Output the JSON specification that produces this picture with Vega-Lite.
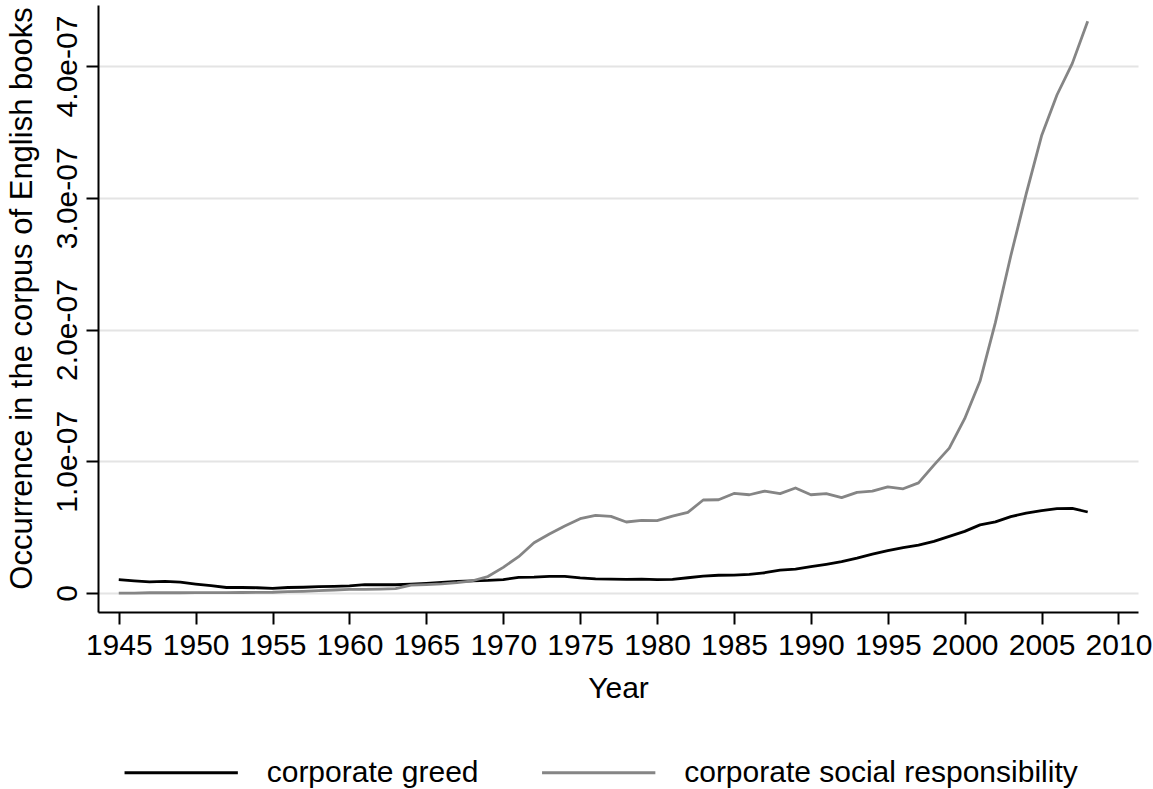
{
  "$schema": "https://vega.github.io/schema/vega-lite/v6.json",
  "width": 1040,
  "height": 607,
  "autosize": {"type": "none"},
  "padding": {"left": 98, "top": 5, "right": 15, "bottom": 177},
  "background": "white",
  "config": {"view": {"stroke": null}, "font": "Liberation Sans"},
  "data": {
    "values": [
      {"year": 1945, "series": "corporate greed", "value": 1.01e-8},
      {"year": 1946, "series": "corporate greed", "value": 0.92e-8},
      {"year": 1947, "series": "corporate greed", "value": 0.85e-8},
      {"year": 1948, "series": "corporate greed", "value": 0.88e-8},
      {"year": 1949, "series": "corporate greed", "value": 0.82e-8},
      {"year": 1950, "series": "corporate greed", "value": 0.68e-8},
      {"year": 1951, "series": "corporate greed", "value": 0.56e-8},
      {"year": 1952, "series": "corporate greed", "value": 0.42e-8},
      {"year": 1953, "series": "corporate greed", "value": 0.42e-8},
      {"year": 1954, "series": "corporate greed", "value": 0.40e-8},
      {"year": 1955, "series": "corporate greed", "value": 0.35e-8},
      {"year": 1956, "series": "corporate greed", "value": 0.42e-8},
      {"year": 1957, "series": "corporate greed", "value": 0.44e-8},
      {"year": 1958, "series": "corporate greed", "value": 0.48e-8},
      {"year": 1959, "series": "corporate greed", "value": 0.51e-8},
      {"year": 1960, "series": "corporate greed", "value": 0.55e-8},
      {"year": 1961, "series": "corporate greed", "value": 0.64e-8},
      {"year": 1962, "series": "corporate greed", "value": 0.63e-8},
      {"year": 1963, "series": "corporate greed", "value": 0.63e-8},
      {"year": 1964, "series": "corporate greed", "value": 0.68e-8},
      {"year": 1965, "series": "corporate greed", "value": 0.74e-8},
      {"year": 1966, "series": "corporate greed", "value": 0.81e-8},
      {"year": 1967, "series": "corporate greed", "value": 0.88e-8},
      {"year": 1968, "series": "corporate greed", "value": 0.93e-8},
      {"year": 1969, "series": "corporate greed", "value": 0.96e-8},
      {"year": 1970, "series": "corporate greed", "value": 1.02e-8},
      {"year": 1971, "series": "corporate greed", "value": 1.19e-8},
      {"year": 1972, "series": "corporate greed", "value": 1.21e-8},
      {"year": 1973, "series": "corporate greed", "value": 1.26e-8},
      {"year": 1974, "series": "corporate greed", "value": 1.27e-8},
      {"year": 1975, "series": "corporate greed", "value": 1.15e-8},
      {"year": 1976, "series": "corporate greed", "value": 1.07e-8},
      {"year": 1977, "series": "corporate greed", "value": 1.06e-8},
      {"year": 1978, "series": "corporate greed", "value": 1.04e-8},
      {"year": 1979, "series": "corporate greed", "value": 1.05e-8},
      {"year": 1980, "series": "corporate greed", "value": 1.01e-8},
      {"year": 1981, "series": "corporate greed", "value": 1.04e-8},
      {"year": 1982, "series": "corporate greed", "value": 1.16e-8},
      {"year": 1983, "series": "corporate greed", "value": 1.29e-8},
      {"year": 1984, "series": "corporate greed", "value": 1.35e-8},
      {"year": 1985, "series": "corporate greed", "value": 1.36e-8},
      {"year": 1986, "series": "corporate greed", "value": 1.42e-8},
      {"year": 1987, "series": "corporate greed", "value": 1.54e-8},
      {"year": 1988, "series": "corporate greed", "value": 1.74e-8},
      {"year": 1989, "series": "corporate greed", "value": 1.82e-8},
      {"year": 1990, "series": "corporate greed", "value": 2.00e-8},
      {"year": 1991, "series": "corporate greed", "value": 2.18e-8},
      {"year": 1992, "series": "corporate greed", "value": 2.38e-8},
      {"year": 1993, "series": "corporate greed", "value": 2.65e-8},
      {"year": 1994, "series": "corporate greed", "value": 2.95e-8},
      {"year": 1995, "series": "corporate greed", "value": 3.22e-8},
      {"year": 1996, "series": "corporate greed", "value": 3.45e-8},
      {"year": 1997, "series": "corporate greed", "value": 3.63e-8},
      {"year": 1998, "series": "corporate greed", "value": 3.92e-8},
      {"year": 1999, "series": "corporate greed", "value": 4.30e-8},
      {"year": 2000, "series": "corporate greed", "value": 4.68e-8},
      {"year": 2001, "series": "corporate greed", "value": 5.17e-8},
      {"year": 2002, "series": "corporate greed", "value": 5.40e-8},
      {"year": 2003, "series": "corporate greed", "value": 5.80e-8},
      {"year": 2004, "series": "corporate greed", "value": 6.07e-8},
      {"year": 2005, "series": "corporate greed", "value": 6.25e-8},
      {"year": 2006, "series": "corporate greed", "value": 6.40e-8},
      {"year": 2007, "series": "corporate greed", "value": 6.42e-8},
      {"year": 2008, "series": "corporate greed", "value": 6.15e-8},
      {"year": 1945, "series": "corporate social responsibility", "value": 0.0},
      {"year": 1946, "series": "corporate social responsibility", "value": 0.0},
      {"year": 1947, "series": "corporate social responsibility", "value": 0.02e-8},
      {"year": 1948, "series": "corporate social responsibility", "value": 0.02e-8},
      {"year": 1949, "series": "corporate social responsibility", "value": 0.02e-8},
      {"year": 1950, "series": "corporate social responsibility", "value": 0.03e-8},
      {"year": 1951, "series": "corporate social responsibility", "value": 0.03e-8},
      {"year": 1952, "series": "corporate social responsibility", "value": 0.03e-8},
      {"year": 1953, "series": "corporate social responsibility", "value": 0.04e-8},
      {"year": 1954, "series": "corporate social responsibility", "value": 0.05e-8},
      {"year": 1955, "series": "corporate social responsibility", "value": 0.06e-8},
      {"year": 1956, "series": "corporate social responsibility", "value": 0.10e-8},
      {"year": 1957, "series": "corporate social responsibility", "value": 0.13e-8},
      {"year": 1958, "series": "corporate social responsibility", "value": 0.18e-8},
      {"year": 1959, "series": "corporate social responsibility", "value": 0.23e-8},
      {"year": 1960, "series": "corporate social responsibility", "value": 0.27e-8},
      {"year": 1961, "series": "corporate social responsibility", "value": 0.28e-8},
      {"year": 1962, "series": "corporate social responsibility", "value": 0.30e-8},
      {"year": 1963, "series": "corporate social responsibility", "value": 0.33e-8},
      {"year": 1964, "series": "corporate social responsibility", "value": 0.60e-8},
      {"year": 1965, "series": "corporate social responsibility", "value": 0.64e-8},
      {"year": 1966, "series": "corporate social responsibility", "value": 0.69e-8},
      {"year": 1967, "series": "corporate social responsibility", "value": 0.79e-8},
      {"year": 1968, "series": "corporate social responsibility", "value": 0.93e-8},
      {"year": 1969, "series": "corporate social responsibility", "value": 1.25e-8},
      {"year": 1970, "series": "corporate social responsibility", "value": 1.95e-8},
      {"year": 1971, "series": "corporate social responsibility", "value": 2.76e-8},
      {"year": 1972, "series": "corporate social responsibility", "value": 3.82e-8},
      {"year": 1973, "series": "corporate social responsibility", "value": 4.48e-8},
      {"year": 1974, "series": "corporate social responsibility", "value": 5.09e-8},
      {"year": 1975, "series": "corporate social responsibility", "value": 5.64e-8},
      {"year": 1976, "series": "corporate social responsibility", "value": 5.90e-8},
      {"year": 1977, "series": "corporate social responsibility", "value": 5.82e-8},
      {"year": 1978, "series": "corporate social responsibility", "value": 5.39e-8},
      {"year": 1979, "series": "corporate social responsibility", "value": 5.52e-8},
      {"year": 1980, "series": "corporate social responsibility", "value": 5.49e-8},
      {"year": 1981, "series": "corporate social responsibility", "value": 5.84e-8},
      {"year": 1982, "series": "corporate social responsibility", "value": 6.12e-8},
      {"year": 1983, "series": "corporate social responsibility", "value": 7.06e-8},
      {"year": 1984, "series": "corporate social responsibility", "value": 7.08e-8},
      {"year": 1985, "series": "corporate social responsibility", "value": 7.56e-8},
      {"year": 1986, "series": "corporate social responsibility", "value": 7.46e-8},
      {"year": 1987, "series": "corporate social responsibility", "value": 7.74e-8},
      {"year": 1988, "series": "corporate social responsibility", "value": 7.54e-8},
      {"year": 1989, "series": "corporate social responsibility", "value": 7.97e-8},
      {"year": 1990, "series": "corporate social responsibility", "value": 7.46e-8},
      {"year": 1991, "series": "corporate social responsibility", "value": 7.54e-8},
      {"year": 1992, "series": "corporate social responsibility", "value": 7.24e-8},
      {"year": 1993, "series": "corporate social responsibility", "value": 7.64e-8},
      {"year": 1994, "series": "corporate social responsibility", "value": 7.73e-8},
      {"year": 1995, "series": "corporate social responsibility", "value": 8.06e-8},
      {"year": 1996, "series": "corporate social responsibility", "value": 7.91e-8},
      {"year": 1997, "series": "corporate social responsibility", "value": 8.36e-8},
      {"year": 1998, "series": "corporate social responsibility", "value": 9.71e-8},
      {"year": 1999, "series": "corporate social responsibility", "value": 11.0e-8},
      {"year": 2000, "series": "corporate social responsibility", "value": 13.23e-8},
      {"year": 2001, "series": "corporate social responsibility", "value": 16.09e-8},
      {"year": 2002, "series": "corporate social responsibility", "value": 20.54e-8},
      {"year": 2003, "series": "corporate social responsibility", "value": 25.6e-8},
      {"year": 2004, "series": "corporate social responsibility", "value": 30.3e-8},
      {"year": 2005, "series": "corporate social responsibility", "value": 34.7e-8},
      {"year": 2006, "series": "corporate social responsibility", "value": 37.8e-8},
      {"year": 2007, "series": "corporate social responsibility", "value": 40.2e-8},
      {"year": 2008, "series": "corporate social responsibility", "value": 43.4e-8}
    ]
  },
  "mark": {"type": "line", "strokeWidth": 2.8, "strokeJoin": "round"},
  "encoding": {
    "x": {
      "field": "year",
      "type": "quantitative",
      "scale": {"domain": [1943.65, 2011.27], "nice": false, "zero": false},
      "axis": {
        "title": "Year",
        "values": [1945, 1950, 1955, 1960, 1965, 1970, 1975, 1980, 1985, 1990, 1995, 2000, 2005, 2010],
        "format": "d",
        "grid": false,
        "domainColor": "#000000",
        "domainWidth": 2,
        "tickColor": "#000000",
        "tickWidth": 2,
        "tickSize": 12,
        "labelFontSize": 30,
        "labelColor": "#000000",
        "labelPadding": 6,
        "labelFlush": false,
        "labelOverlap": false,
        "labelBound": false,
        "titleFontSize": 30,
        "titleFontWeight": "normal",
        "titleColor": "#000000",
        "titlePadding": 13
      }
    },
    "y": {
      "field": "value",
      "type": "quantitative",
      "scale": {"domain": [-1.44e-8, 4.463e-7], "nice": false, "zero": false},
      "axis": {
        "title": "Occurrence in the corpus of English books",
        "values": [0, 1e-7, 2e-7, 3e-7, 4e-7],
        "labelExpr": "datum.value == 0 ? '0' : replace(format(datum.value, '.1e'), 'e-', 'e-0')",
        "labelAngle": 270,
        "labelAlign": "center",
        "labelBaseline": "alphabetic",
        "labelPadding": 10,
        "labelFontSize": 30,
        "labelColor": "#000000",
        "labelOverlap": false,
        "labelBound": false,
        "labelFlush": false,
        "grid": true,
        "gridColor": "#e4e4e4",
        "gridWidth": 2,
        "domainColor": "#000000",
        "domainWidth": 2,
        "tickColor": "#000000",
        "tickWidth": 2,
        "tickSize": 12,
        "titleFontSize": 31,
        "titleFontWeight": "normal",
        "titleColor": "#000000",
        "titlePadding": 14,
        "titleY": 293
      }
    },
    "color": {
      "field": "series",
      "type": "nominal",
      "scale": {
        "domain": ["corporate greed", "corporate social responsibility"],
        "range": ["#000000", "#858585"]
      },
      "legend": {
        "orient": "none",
        "legendX": 24.7,
        "legendY": 709,
        "direction": "horizontal",
        "columns": 2,
        "title": null,
        "symbolType": "stroke",
        "symbolSize": 12837,
        "symbolStrokeWidth": 3,
        "labelFontSize": 30,
        "labelColor": "#000000",
        "labelOffset": 27,
        "labelLimit": 800,
        "columnPadding": 56.5,
        "padding": 0
      }
    }
  }
}
